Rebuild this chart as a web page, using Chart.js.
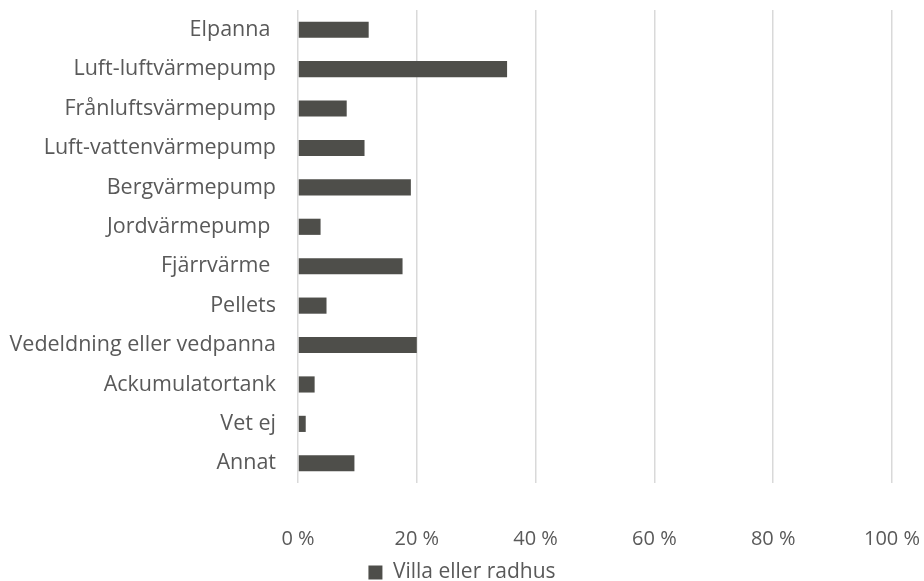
<!DOCTYPE html>
<html>
<head>
<meta charset="utf-8">
<script src="https://cdn.jsdelivr.net/npm/chart.js@4"></script>
<style>
  html, body { margin: 0; padding: 0; background: #fff; }
  #wrap { width: 924px; height: 581px; }
</style>
</head>
<body>
<div id="wrap"><canvas id="chart"></canvas></div>
<script>
// kategorier och andelar (procent)
const categories = ['Elpanna ', 'Luft-luftvärmepump', 'Frånluftsvärmepump', 'Luft-vattenvärmepump',
  'Bergvärmepump', 'Jordvärmepump ', 'Fjärrvärme ', 'Pellets', 'Vedeldning eller vedpanna',
  'Ackumulatortank', 'Vet ej', 'Annat'];
const villaValues = [11.9, 35.2, 8.2, 11.2, 19.0, 3.8, 17.6, 4.8, 20.0, 2.8, 1.3, 9.5];
const seriesName = 'Villa eller radhus';
const xTicks = [0, 20, 40, 60, 80, 100];

const textColor = '#595959';
const fam = 'Open Sans';

const ctx = document.getElementById('chart').getContext('2d');
const chart = new Chart(ctx, {
  type: 'bar',
  data: {
    labels: categories,
    datasets: [{
      label: seriesName,
      data: villaValues,
      backgroundColor: '#4e4e4a',
      borderWidth: 0,
      categoryPercentage: 1,
      barPercentage: 0.41
    }]
  },
  options: {
    indexAxis: 'y',
    responsive: true,
    maintainAspectRatio: false,
    animation: false,
    layout: { padding: { top: 10, right: 0, bottom: -12, left: 0 } },
    scales: {
      x: {
        min: 0,
        max: 100,
        afterBuildTicks: function (scale) {
          scale.ticks = xTicks.map(v => ({ value: v }));
        },
        afterFit: function (scale) {
          scale.paddingLeft = 0;
          scale.paddingRight = 32;
          scale.height = 68;
        },
        ticks: {
          color: textColor,
          font: { family: fam, size: 20 },
          padding: 44,
          maxRotation: 0,
          callback: v => v + ' %'
        },
        grid: { color: '#d9d9d9', lineWidth: 1.5, drawTicks: false },
        border: { display: false }
      },
      y: {
        afterFit: function (scale) {
          scale.width = 298;
          scale.paddingTop = 0;
          scale.paddingBottom = 0;
        },
        ticks: { color: textColor, font: { family: fam, size: 21.5 }, padding: 22 },
        grid: { display: false, drawTicks: false },
        border: { display: false }
      }
    },
    plugins: {
      legend: {
        position: 'bottom',
        labels: {
          color: textColor,
          font: { family: fam, size: 21 },
          boxWidth: 14,
          boxHeight: 14,
          padding: 11
        }
      },
      tooltip: { enabled: false }
    }
  }
});
</script>
</body>
</html>
